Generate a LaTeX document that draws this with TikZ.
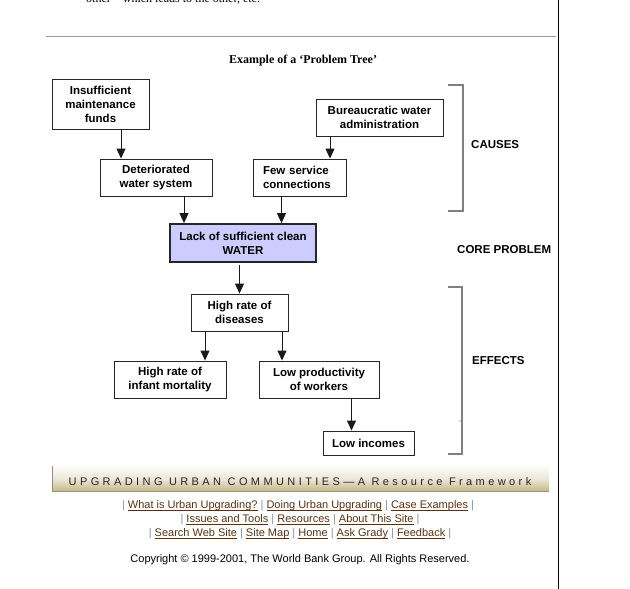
\documentclass[tikz,border=0pt]{standalone}
\usepackage{fontspec}
\setmainfont{Liberation Serif}
\newfontfamily\arial{Liberation Sans}
\newfontfamily\arialsp[LetterSpace=31]{Liberation Sans}
\usetikzlibrary{arrows.meta}
\definecolor{lav}{HTML}{CCCCFF}
\definecolor{linkc}{HTML}{5A3010}
\definecolor{barc}{HTML}{7D93B5}
\definecolor{bantop}{HTML}{FDFCF8}
\definecolor{banbot}{HTML}{C6B88C}
\newcommand\lk[1]{\begingroup\color{linkc}\setbox0=\hbox{#1}\rlap{\rule[-1.6pt]{\wd0}{0.8pt}}\box0\endgroup}
\newcommand\sepbar{\textcolor{barc}{|}}
\begin{document}
\begin{tikzpicture}[x=1pt,y=-1pt,
  box/.style={draw=black!85, line width=0.9pt, fill=white, inner sep=0pt, align=center,
    font=\arial\bfseries\fontsize{11.5}{14}\selectfont, text=black},
  arr/.style={line width=0.9pt, draw=black!90, -{Triangle[width=9pt,length=10pt]}},
  brk/.style={draw=black!50, line width=1.2pt},
  lbl/.style={font=\arial\bfseries\fontsize{11.5}{14}\selectfont, anchor=west, inner sep=0pt},
  lnk/.style={font=\arial\fontsize{11}{14}\selectfont, inner sep=0pt}]
\useasboundingbox (0,0) rectangle (630,589);
\clip (0,0) rectangle (630,589);
% page furniture
\node[anchor=base west, inner sep=0pt, font=\fontsize{12}{14}\selectfont] (toptext) at (86,2) {other – which leads to the other, etc.};
\draw[black!40, line width=1.5pt] (46,36.5) -- (556,36.5);
\draw[black, line width=1pt] (558,0) -- (558,589);
\node[inner sep=0pt, font=\bfseries\fontsize{12}{14}\selectfont] (title) at (303,60.5) {Example of a ‘Problem Tree’};
% boxes
\node[box, minimum width=97pt, minimum height=50pt] (ins) at (100.5,104) {Insufficient\\maintenance\\funds};
\node[box, minimum width=127pt, minimum height=37pt] (bur) at (379.5,117.5) {Bureaucratic water\\administration};
\node[box, minimum width=112pt, minimum height=37pt] (det) at (156,177.5) {Deteriorated\\water system};
\node[box, align=left, text width=73pt, inner xsep=10pt, minimum height=37pt] (few) at (299.5,177.5) {Few service\\connections};
\node[box, fill=lav, line width=1.8pt, minimum width=146pt, minimum height=38pt] (lack) at (243,243) {Lack of sufficient clean\\WATER};
\node[box, minimum width=97pt, minimum height=37pt] (dis) at (239.5,312.5) {High rate of\\diseases};
\node[box, minimum width=112pt, minimum height=37pt] (inf) at (170,379.5) {High rate of\\infant mortality};
\node[box, minimum width=120pt, minimum height=37pt] (prod) at (319,379.5) {Low productivity\\of workers};
\node[box, minimum width=91pt, minimum height=24pt] (inc) at (368.5,443) {Low incomes};
% arrow columns
\coordinate (c1) at (121,0);
\coordinate (c2) at (330,0);
\coordinate (c3) at (184,0);
\coordinate (c4) at (281.5,0);
\coordinate (c5) at (239.5,0);
\coordinate (c6) at (205,0);
\coordinate (c7) at (282,0);
\coordinate (c8) at (351.5,0);
\draw[arr] (c1 |- ins.south) -- (c1 |- det.north);
\draw[arr] (c2 |- bur.south) -- (c2 |- few.north);
\draw[arr] (c3 |- det.south) -- (c3 |- lack.north);
\draw[arr] (c4 |- few.south) -- (c4 |- lack.north);
\draw[arr, shorten <=2.5pt] (c5 |- lack.south) -- (c5 |- dis.north);
\draw[arr] (c6 |- dis.south) -- (c6 |- inf.north);
\draw[arr] (c7 |- dis.south) -- (c7 |- prod.north);
\draw[arr] (c8 |- prod.south) -- (c8 |- inc.north);
% brackets and labels
\draw[brk] (448,85) -- (463,85) -- (463,211) -- (448,211);
\draw[brk] (448,287) -- (462,287) -- (462,454) -- (448,454);
\fill[red] (460,421) circle (0.7);
\node[lbl] (causes) at (471,145) {CAUSES};
\node[lbl] (core) at (457,250) {CORE PROBLEM};
\node[lbl] (effects) at (472,361) {EFFECTS};
% banner
\shade[top color=bantop, bottom color=banbot, middle color=bantop!70!banbot] (52,466) rectangle (549,491);
\draw[black!45, line width=1pt] (52.5,466) -- (52.5,491);
\draw[banbot!80!black, line width=0.6pt] (52,491) -- (549,491);
\node[inner sep=0pt, font=\arialsp\fontsize{11}{13}\selectfont, text=black!85] (banner) at (300,482) {UPGRADING URBAN COMMUNITIES—A Resource Framework};
% links
\node[lnk] (l1) at (298,506) {\sepbar\ \lk{What is Urban Upgrading?} \sepbar\ \lk{Doing Urban Upgrading} \sepbar\ \lk{Case Examples} \sepbar};
\node[lnk] (l2) at (300,520) {\sepbar\ \lk{Issues and Tools} \sepbar\ \lk{Resources} \sepbar\ \lk{About This Site} \sepbar};
\node[lnk] (l3) at (300,534) {\sepbar\ \lk{Search Web Site} \sepbar\ \lk{Site Map} \sepbar\ \lk{Home} \sepbar\ \lk{Ask Grady} \sepbar\ \lk{Feedback} \sepbar};
\node[lnk] (copy) at (300,560) {Copyright © 1999-2001, The World Bank Group. All Rights Reserved.};
\end{tikzpicture}
\end{document}
